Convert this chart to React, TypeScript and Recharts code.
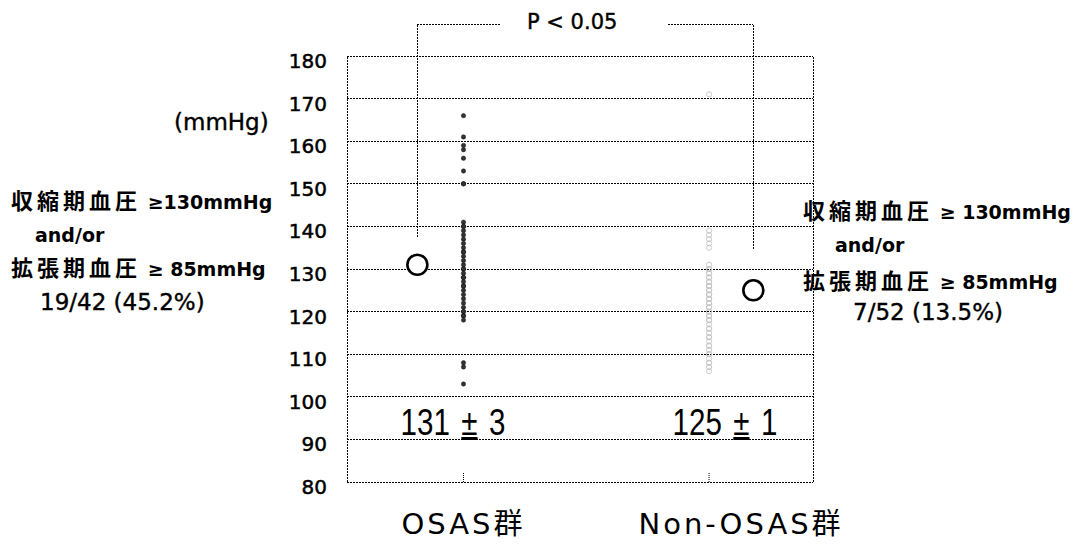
import React from "react";
import {
  ScatterChart,
  Scatter,
  XAxis,
  YAxis,
  CartesianGrid,
  ReferenceLine,
} from "recharts";

const yTicks = [80, 90, 100, 110, 120, 130, 140, 150, 160, 170, 180];
const groups = ["OSAS群", "Non-OSAS群"];
const groupX = [25, 77.7];
const groupLabelShift = [0, 32];

// individual blood pressure values (mmHg)
const osasValues = [
  166, 161, 159, 158, 156, 153, 150, 150, 141, 140, 140, 139, 138, 137, 136,
  135, 134, 134, 133, 132, 131, 130, 130, 129, 128, 128, 127, 126, 126, 125,
  124, 123, 122, 121, 120, 120, 119, 119, 118, 108, 107, 103,
];
const nonOsasValues = [
  171, 139, 138, 137, 136, 135, 131, 130, 130, 129, 129, 128, 128, 127, 127,
  126, 126, 126, 125, 125, 124, 124, 124, 123, 123, 122, 122, 121, 121, 120,
  120, 119, 119, 118, 118, 117, 116, 116, 115, 114, 114, 113, 112, 112, 111,
  110, 110, 109, 108, 108, 107, 106,
];

const meanX = [15.1, 87.2];
const meanValues = [131, 125];
const semValues = [3, 1];
const ratioLabels = ["19/42 (45.2%)", "7/52 (13.5%)"];

const osasData = osasValues.map((y) => ({ x: groupX[0], y }));
const nonOsasData = nonOsasValues.map((y) => ({ x: groupX[1], y }));
const meanData = meanValues.map((y, i) => ({ x: meanX[i], y }));

const W = 1089;
const H = 549;
const latin = "'DejaVu Sans', 'Noto Sans CJK JP', sans-serif";
const dots = "2 1";

const YTick = (props: any) => {
  const { x, y, payload } = props;
  return (
    <text
      x={x}
      y={y + 5}
      textAnchor="end"
      dominantBaseline="central"
      fontSize={20}
      fontFamily={latin}
      fill="#000"
      stroke="#000"
      strokeWidth={0.5}
    >
      {payload.value}
    </text>
  );
};

const XTick = (props: any) => {
  const { x, y, index } = props;
  return (
    <g>
      <line x1={x} x2={x} y1={y - 9} y2={y} stroke="#000" strokeDasharray="1 1" />
      <text
        x={x + groupLabelShift[index]}
        y={y + 42}
        textAnchor="middle"
        dominantBaseline="central"
        fontSize={29}
        fontFamily={latin}
        style={{ letterSpacing: 3 }}
        fill="#000"
      >
        {groups[index]}
      </text>
    </g>
  );
};

const OsasDot = (p: any) => <circle cx={p.cx} cy={p.cy} r={2.2} fill="#333" stroke="#000" strokeWidth={0.4} />;
const NonOsasDot = (p: any) => <circle cx={p.cx} cy={p.cy} r={2.6} fill="none" stroke="#c4c4c4" strokeWidth={0.9} />;
const MeanDot = (p: any) => <circle cx={p.cx} cy={p.cy} r={10} fill="#fff" stroke="#000" strokeWidth={2.6} />;

const Txt = ({ left, top, size = 20, children, bold = false }: any) => (
  <div
    style={{
      position: "absolute",
      left,
      top,
      transform: "translateY(-50%)",
      whiteSpace: "nowrap",
      fontFamily: latin,
      fontSize: size,
      fontWeight: bold ? 700 : 400,
      lineHeight: 1,
      color: "#000",
    }}
  >
    {children}
  </div>
);

const Cjk = ({ children }: any) => (
  <span style={{ fontFamily: "'Noto Sans CJK JP'", fontSize: 22, fontWeight: 700, letterSpacing: 4 }}>{children}</span>
);

const Annotation = ({ left, top, line1, ratio, ratioLeft, orLeft }: any) => (
  <>
    <Txt left={left} top={top[0]} size={19} bold>
      <Cjk>収縮期血圧</Cjk> {line1}
    </Txt>
    <Txt left={orLeft} top={top[1]} size={19} bold>
      and/or
    </Txt>
    <Txt left={left} top={top[2]} size={19} bold>
      <Cjk>拡張期血圧</Cjk> ≥ 85mmHg
    </Txt>
    <Txt left={ratioLeft} top={top[3]} size={23}>
      <span style={{ WebkitTextStroke: "0.4px #000" }}>{ratio}</span>
    </Txt>
  </>
);

const MeanText = ({ cx, i }: any) => (
  <div
    style={{
      position: "absolute",
      left: cx,
      top: 423,
      transform: "translate(-50%, -50%) scaleX(0.82)",
      whiteSpace: "nowrap",
      fontFamily: "'Liberation Sans', sans-serif",
      fontSize: 36,
      lineHeight: 1,
      wordSpacing: 4,
      color: "#000",
    }}
  >
    {meanValues[i]} <span style={{ textDecoration: "underline" }}>±</span> {semValues[i]}
  </div>
);

const lineStyle = { stroke: "#000", strokeDasharray: dots, shapeRendering: "crispEdges" } as any;

export default function App() {
  const bracketTop = 187.3;
  return (
    <div style={{ position: "absolute", left: 0, top: 0, width: W, height: H, background: "#fff" }}>
      <ScatterChart width={W} height={H} margin={{ top: 56, right: 276, bottom: 37, left: 287 }}>
        <CartesianGrid vertical={false} {...lineStyle} />
        <XAxis
          type="number"
          dataKey="x"
          domain={[0, 100]}
          ticks={groupX}
          axisLine={false}
          tickLine={false}
          tickSize={0}
          tickMargin={0}
          height={30}
          tick={<XTick />}
          interval={0}
        />
        <YAxis
          type="number"
          dataKey="y"
          domain={[80, 180]}
          ticks={yTicks}
          axisLine={false}
          tickLine={false}
          tickSize={0}
          tickMargin={20}
          width={60}
          tick={<YTick />}
          interval={0}
        />
        <ReferenceLine x={0} {...lineStyle} />
        <ReferenceLine x={100} {...lineStyle} />
        <ReferenceLine
          ifOverflow="visible"
          segment={[{ x: meanX[0], y: bracketTop }, { x: meanX[0], y: 137.5 }]}
          {...lineStyle}
        />
        <ReferenceLine
          ifOverflow="visible"
          segment={[{ x: meanX[1], y: bracketTop }, { x: meanX[1], y: 134.5 }]}
          {...lineStyle}
        />
        <ReferenceLine
          ifOverflow="visible"
          segment={[{ x: meanX[0], y: bracketTop }, { x: 32.8, y: bracketTop }]}
          {...lineStyle}
        />
        <ReferenceLine
          ifOverflow="visible"
          segment={[{ x: 68.9, y: bracketTop }, { x: meanX[1], y: bracketTop }]}
          {...lineStyle}
        />
        <Scatter data={nonOsasData} shape={NonOsasDot} isAnimationActive={false} />
        <Scatter data={osasData} shape={OsasDot} isAnimationActive={false} />
        <Scatter data={meanData} shape={MeanDot} isAnimationActive={false} />
      </ScatterChart>

      <Txt left={527} top={22} size={21}>
        <span style={{ WebkitTextStroke: "0.4px #000" }}>P &lt; 0.05</span>
      </Txt>
      <Txt left={174} top={122} size={23}>
        <span style={{ WebkitTextStroke: "0.4px #000" }}>(mmHg)</span>
      </Txt>
      <MeanText cx={453} i={0} />
      <MeanText cx={725} i={1} />
      <Annotation left={11} top={[200, 235, 267, 302]} line1="≥130mmHg" ratio={ratioLabels[0]} ratioLeft={40} orLeft={35} />
      <Annotation left={803} top={[210, 245, 280, 312]} line1="≥ 130mmHg" ratio={ratioLabels[1]} ratioLeft={853} orLeft={835} />
    </div>
  );
}
